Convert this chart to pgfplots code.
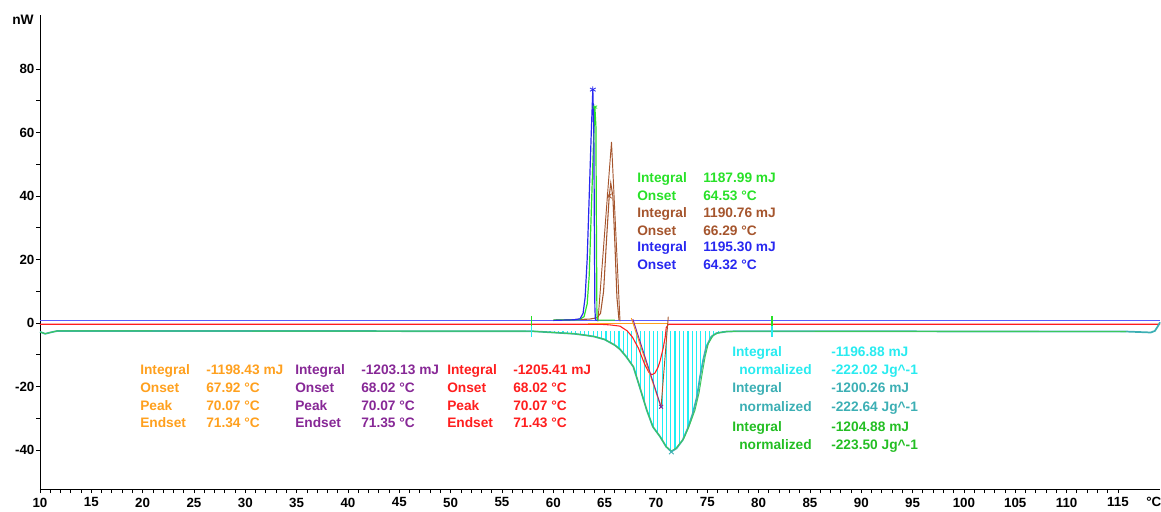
\documentclass[border=0pt]{standalone}
\usepackage{fontspec}
\setmainfont{Liberation Sans}
\usepackage{pgfplots}
\pgfplotsset{compat=1.18}
\definecolor{cblue}{RGB}{40,40,240}
\definecolor{cblueb}{RGB}{90,90,255}
\definecolor{clime}{RGB}{40,225,40}
\definecolor{cbrown}{RGB}{165,85,45}
\definecolor{corange}{RGB}{255,160,30}
\definecolor{cpurple}{RGB}{135,40,150}
\definecolor{cred}{RGB}{255,30,30}
\definecolor{ccyan}{RGB}{40,235,240}
\definecolor{chatch}{RGB}{30,240,245}
\definecolor{cteal}{RGB}{60,175,180}
\definecolor{cgreen}{RGB}{35,190,35}
\definecolor{cbase}{RGB}{60,200,90}
\begin{document}
\begin{tikzpicture}
\begin{axis}[
  at={(30pt,-11.25pt)}, anchor=north west,
  scale only axis, width=840pt, height=355.5pt,
  xmin=10, xmax=119.1, ymin=-52.3, ymax=97,
  axis lines*=left,
  axis line style={line width=0.6pt,black},
  xtick={10,15,...,115}, minor x tick num=4,
  ytick={-40,-20,...,80}, minor y tick num=1,
  tick align=outside,
  major tick length=3pt, minor tick length=3pt,
  tick style={black,line width=0.6pt},
  ticklabel style={font=\bfseries\fontsize{10}{12}\selectfont},
  yticklabel style={inner sep=1pt},
  /pgf/number format/assume math mode=true,
  /pgf/number format/1000 sep={},
  clip=false,
]
% hatch: vertical lines from the baseline down to the curve
\addplot[draw=none, no markers, error bars/.cd, y dir=minus, y explicit, error mark=none,
  error bar style={draw=chatch, line width=0.85pt}] coordinates {
(58.00,-2.6) -= (0,0.1) (58.42,-2.6) -= (0,0.1) (58.84,-2.6) -= (0,0.17) (59.26,-2.6) -= (0,0.25)
(59.68,-2.6) -= (0,0.34) (60.10,-2.6) -= (0,0.42) (60.52,-2.6) -= (0,0.5) (60.94,-2.6) -= (0,0.59)
(61.36,-2.6) -= (0,0.67) (61.78,-2.6) -= (0,0.76) (62.20,-2.6) -= (0,0.88) (62.62,-2.6) -= (0,1.05)
(63.04,-2.6) -= (0,1.22) (63.46,-2.6) -= (0,1.43) (63.88,-2.6) -= (0,1.64) (64.30,-2.6) -= (0,1.97)
(64.72,-2.6) -= (0,2.35) (65.14,-2.6) -= (0,2.85) (65.56,-2.6) -= (0,3.6) (65.98,-2.6) -= (0,4.36)
(66.40,-2.6) -= (0,5.44) (66.82,-2.6) -= (0,6.9) (67.24,-2.6) -= (0,8.7) (67.66,-2.6) -= (0,10.6)
(68.08,-2.6) -= (0,14.0) (68.50,-2.6) -= (0,18.4) (68.92,-2.6) -= (0,22.9) (69.34,-2.6) -= (0,26.9)
(69.76,-2.6) -= (0,30.4) (70.18,-2.6) -= (0,32.2) (70.60,-2.6) -= (0,34.2) (71.02,-2.6) -= (0,36.5)
(71.44,-2.6) -= (0,37.7) (71.86,-2.6) -= (0,37.2) (72.28,-2.6) -= (0,35.7) (72.70,-2.6) -= (0,33.6)
(73.12,-2.6) -= (0,30.5) (73.54,-2.6) -= (0,26.4) (73.96,-2.6) -= (0,21.1) (74.38,-2.6) -= (0,12.9)
(74.80,-2.6) -= (0,6.3) (75.22,-2.6) -= (0,2.8) (75.64,-2.6) -= (0,1.1) (76.06,-2.6) -= (0,0.5)
(76.48,-2.6) -= (0,0.3) (76.90,-2.6) -= (0,0.1)
};
% baselines
\addplot[cblueb, line width=0.8pt] coordinates {(10,0.7) (119.1,0.7)};
\addplot[cred, line width=0.8pt] coordinates {(10,-0.4) (64.5,-0.4) (65.5,-0.6) (66.5,-1.0) (67.2,-2.5) (67.7,-4.4) (68.3,-8) (68.9,-13) (69.3,-15.5) (69.6,-16.3) (69.9,-15.8) (70.2,-14) (70.4,-12) (70.7,-8) (70.9,-4.5) (71.0,-1.5) (71.2,-0.4) (119.1,-0.4)};
\addplot[corange, line width=0.8pt] coordinates {(63.4,-0.3) (71.2,-0.3)};
% teal and green big curve
\addplot[cteal, line width=1.3pt] coordinates {
(10,-2.8) (10.5,-3.4) (11,-3.0) (11.7,-2.5) (57.9,-2.6) (60,-3.0) (62,-3.4) (63,-3.8) (64,-4.3) (65,-5.2) (66,-7.0) (66.5,-8.3) (67.1,-10.6) (67.8,-13.8) (68.4,-20) (69.1,-27.4) (69.7,-32.7) (70.4,-35.8) (71.0,-39) (71.5,-40.5) (72.0,-39.5) (72.6,-36.9) (73.1,-33.2) (73.6,-28.4) (74.0,-23.2) (74.3,-16.9) (74.6,-11.7) (74.9,-7.5) (75.4,-4.3) (75.9,-3.2) (76.9,-2.7) (78,-2.6) (115.8,-2.7) (118.2,-3.0) (118.6,-2.5) (118.9,-1.0) (119.1,0.2)};
\addplot[cbase, line width=0.7pt] coordinates {
(10,-2.8) (10.5,-3.4) (11,-3.0) (11.7,-2.5) (57.9,-2.6) (60,-3.0) (62,-3.4) (63,-3.8) (64,-4.3) (65,-5.2) (66,-7.0) (66.5,-8.3) (67.1,-10.6) (67.8,-13.8) (68.4,-20) (69.1,-27.4) (69.7,-32.7) (70.4,-35.8) (71.0,-39) (71.5,-40.4) (72.0,-39.3) (72.7,-36.5) (73.2,-32.8) (73.8,-27.5) (74.2,-22) (74.5,-16) (74.8,-10.5) (75.1,-6.5) (75.6,-3.8) (76.2,-3.0) (77,-2.7) (78,-2.6) (115.8,-2.7)};
\addplot[cteal, only marks, mark=x, mark size=2.5pt, line width=0.6pt] coordinates {(71.5,-40.6)};
% tangent lines of the dip
\addplot[corange, line width=0.7pt] coordinates {(67.6,1.5) (70.45,-26.2)};
\addplot[cbrown, line width=0.7pt] coordinates {(71.2,2.0) (70.5,-26.4)};
\addplot[cpurple, line width=0.7pt, mark=x, mark size=2pt, mark indices={2}] coordinates {(67.75,1.2) (70.5,-26.4)};
% brown peak
\addplot[cbrown, line width=0.7pt] coordinates {(64.35,0.5) (65.67,57) (66.5,0.5)};
\addplot[cbrown, line width=0.8pt] coordinates {(60,0.9) (63.5,1.2) (64.2,1.6) (64.6,3) (64.9,10) (65.2,27) (65.45,40) (65.6,44) (65.8,40) (66.0,25) (66.2,8) (66.4,1.0)};
\addplot[cbrown, only marks, mark=x, mark size=2.5pt, line width=0.6pt] coordinates {(65.45,40)};
% lime peak
\addplot[clime, line width=0.9pt] coordinates {(60,0.9) (62.5,1.0) (63.0,2) (63.3,6) (63.5,15) (63.7,35) (63.9,55) (64.05,68) (64.15,62) (64.2,30) (64.25,3) (64.3,0.9) (66,0.9)};
\addplot[clime, only marks, mark=asterisk, mark size=2pt, line width=0.5pt] coordinates {(64.05,68)};
% blue peak
\addplot[cblue, line width=0.9pt] coordinates {(60,0.8) (62.0,1.0) (62.6,1.3) (62.9,3) (63.1,8) (63.3,20) (63.5,40) (63.7,60) (63.85,73.5) (63.95,60) (64.0,30) (64.05,5) (64.1,1.0) (64.3,0.8)};
\addplot[cblue, only marks, mark=asterisk, mark size=2.5pt, line width=0.6pt] coordinates {(63.85,73.5)};
% limit markers
\addplot[clime, line width=1pt] coordinates {(57.9,2.2) (57.9,-1)};
\addplot[ccyan, line width=1pt] coordinates {(57.9,-1) (57.9,-4.5)};
\addplot[clime, line width=1pt] coordinates {(81.3,2.2) (81.3,-1)};
\addplot[ccyan, line width=1pt] coordinates {(81.3,-1) (81.3,-4.5)};
\node[anchor=north, font=\bfseries\fontsize{10}{12}\selectfont, inner sep=0pt] at (axis cs:118.5,-52.3) [yshift=-6pt] {°C};
\end{axis}
\begin{scope}[x=0.75pt,y=-0.75pt, every node/.style={anchor=mid west, inner sep=0pt, font=\bfseries\fontsize{10.3}{12}\selectfont}]
\node[anchor=center] at (23,20) {nW};
% upper block
\node[text=clime] at (637,179) {Integral}; \node[text=clime] at (703,179) {1187.99 mJ};
\node[text=clime] at (637,197) {Onset}; \node[text=clime] at (703,197) {64.53 °C};
\node[text=cbrown] at (637,214) {Integral}; \node[text=cbrown] at (703,214) {1190.76 mJ};
\node[text=cbrown] at (637,232) {Onset}; \node[text=cbrown] at (703,232) {66.29 °C};
\node[text=cblue] at (637,248) {Integral}; \node[text=cblue] at (703,248) {1195.30 mJ};
\node[text=cblue] at (637,266) {Onset}; \node[text=cblue] at (703,266) {64.32 °C};
% lower left blocks
\node[text=corange] at (140,371) {Integral}; \node[text=corange] at (206,371) {-1198.43 mJ};
\node[text=corange] at (140,389) {Onset}; \node[text=corange] at (206,389) {67.92 °C};
\node[text=corange] at (140,407) {Peak}; \node[text=corange] at (206,407) {70.07 °C};
\node[text=corange] at (140,424) {Endset}; \node[text=corange] at (206,424) {71.34 °C};
\node[text=cpurple] at (295,371) {Integral}; \node[text=cpurple] at (361,371) {-1203.13 mJ};
\node[text=cpurple] at (295,389) {Onset}; \node[text=cpurple] at (361,389) {68.02 °C};
\node[text=cpurple] at (295,407) {Peak}; \node[text=cpurple] at (361,407) {70.07 °C};
\node[text=cpurple] at (295,424) {Endset}; \node[text=cpurple] at (361,424) {71.35 °C};
\node[text=cred] at (447,371) {Integral}; \node[text=cred] at (513,371) {-1205.41 mJ};
\node[text=cred] at (447,389) {Onset}; \node[text=cred] at (513,389) {68.02 °C};
\node[text=cred] at (447,407) {Peak}; \node[text=cred] at (513,407) {70.07 °C};
\node[text=cred] at (447,424) {Endset}; \node[text=cred] at (513,424) {71.43 °C};
% right block
\node[text=ccyan] at (732,353) {Integral}; \node[text=ccyan] at (831,353) {-1196.88 mJ};
\node[text=ccyan] at (739,371) {normalized}; \node[text=ccyan] at (831,371) {-222.02 Jg\^{}-1};
\node[text=cteal] at (732,389) {Integral}; \node[text=cteal] at (831,389) {-1200.26 mJ};
\node[text=cteal] at (739,408) {normalized}; \node[text=cteal] at (831,408) {-222.64 Jg\^{}-1};
\node[text=cgreen] at (732,428) {Integral}; \node[text=cgreen] at (831,428) {-1204.88 mJ};
\node[text=cgreen] at (739,446) {normalized}; \node[text=cgreen] at (831,446) {-223.50 Jg\^{}-1};
\end{scope}
\pgfresetboundingbox
\path[use as bounding box] (0,0) rectangle (870.75pt,-383.25pt);
\end{tikzpicture}
\end{document}
